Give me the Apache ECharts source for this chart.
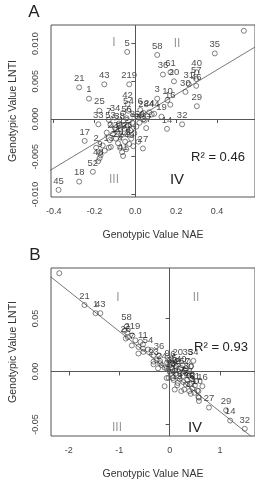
<!DOCTYPE html>
<html>
<head>
<meta charset="utf-8">
<script src="https://cdn.jsdelivr.net/npm/echarts@6/dist/echarts.min.js"></script>
<style>
  html, body { margin: 0; padding: 0; background: #fff; }
  #chart { width: 255px; height: 481px; }
</style>
</head>
<body>
<div id="chart"></div>
<script>
// panel A: genotypic value NAE (x) vs LNTI (y)
var labelsA = ['5', '21', '1', '43', '219', '58', '35', '', '36', '61', '20', '40', '57', '46', '31', '30',
    '3', '10', '16', '29', '32', '14', '19', '37', '27', '42', '54', '6', '56', '28', '24', '44',
    '25', '33', '7', '53', '17', '2', '9', '48', '52', '18', '45', '13',
    '23', '', '11', '', '22', '', '4', '39', '', '41', '12', '15', '', '26', '', '49', '', '47', '8',
    '', '', '55', '', '', '50', '', '', '', '', '', '', '34', '', '38', '', '', '', '', ''];
var naeA = [-0.040, -0.275, -0.227, -0.152, -0.030, 0.107, 0.389, 0.531, 0.135, 0.172, 0.189, 0.300, 0.298, 0.298, 0.262, 0.245,
    0.107, 0.157, 0.171, 0.301, 0.229, 0.155, 0.128, 0.053, 0.037, -0.038, -0.034, 0.024, -0.043, 0.040, 0.068, 0.092,
    -0.176, -0.181, -0.130, -0.122, -0.248, -0.192, -0.173, -0.182, -0.208, -0.275, -0.376, -0.130,
    -0.110, -0.100, -0.095, -0.088, -0.085, -0.080, -0.075, -0.070, -0.065, -0.060, -0.055, -0.050, -0.045, -0.040, -0.035, -0.030, -0.025, -0.020, -0.015,
    -0.010, -0.005, 0.005, 0.010, 0.015, 0.020, 0.030, -0.160, -0.150, -0.170, -0.175, -0.120, -0.100, -0.060, -0.077, 0.060, 0.080, 0.045, -0.140, -0.125];
var lntiA = [0.0089, 0.0042, 0.0027, 0.0046, 0.0046, 0.0085, 0.0087, 0.0117, 0.0059, 0.0062, 0.0050, 0.0062, 0.0053, 0.0044, 0.0046, 0.0036,
    0.0027, 0.0025, 0.0019, 0.0017, -0.0007, -0.0013, 0.0003, -0.0012, -0.0039, 0.0020, 0.0011, 0.0012, 0.0001, 0.0008, 0.0009, 0.0007,
    0.0011, -0.0007, -0.0001, -0.0007, -0.0029, -0.0038, -0.0045, -0.0056, -0.0070, -0.0083, -0.0094, -0.0038,
    -0.0020, -0.0012, -0.0026, -0.0017, -0.0032, -0.0006, -0.0038, -0.0022, -0.0044, -0.0049, -0.0013, -0.0030, -0.0040, -0.0020, -0.0008, -0.0033, -0.0015, -0.0026, -0.0005,
    -0.0036, -0.0019, -0.0010, 0.0003, -0.0030, -0.0005, 0.0005, -0.0035, -0.0042, -0.0048, -0.0052, -0.0037, 0.0002, 0.0008, -0.0008, 0.0004, 0.0006, -0.0002, -0.0018, -0.0028];
var fitA = [[-0.42, -0.00685], [0.59, 0.00962]];
var xTicksA = [-0.4, -0.2, 0.0, 0.2, 0.4];
var yTicksA = [-0.010, -0.005, 0.000, 0.005, 0.010];

// panel B
var labelsB = ['', '21', '1', '43', '58', '26', '219', '7', '11', '54', '36', '20', '35', '34', '40', '16', '27', '29', '14', '32',
    '', '', '', '', '', '', '', '', '', '', '', '', '23', '', '24', '', '', '', '', '6', '', '', '', '',
    '', '', '', '', '', '', '', '', '', '', '', '', '', '', '', '', '', '', '', '', '', '', '', '',
    '9', '13', '33', '4', '45', '17', '18', '52', '12', '3', '61', '10', '57', '30', '25', '5', '42', '19', '37'];
var naeB = [-2.19, -1.69, -1.47, -1.375, -0.856, -0.87, -0.74, -0.75, -0.53, -0.43, -0.21, 0.16, 0.36, 0.47, 0.23, 0.65, 0.78, 1.12, 1.20, 1.49,
    -0.895, -0.84, -0.83, -0.68, -0.58, -0.62, -0.53, -0.52, -0.62, -0.36, -0.32, -0.26, -0.32, -0.19, -0.16, -0.23, -0.10, -0.03, 0.0, 0.065, 0.13, 0.26, 0.32, 0.42,
    -0.32, -0.19, -0.06, 0.0, -0.06, -0.10, 0.10, 0.23, 0.16, 0.32, 0.39, 0.49, 0.57, 0.58, 0.58, 0.52, 0.42, 0.26, 0.19, 0.36, 0.45, 0.065, 0.29, 0.57,
    -0.05, 0.02, 0.05, 0.08, 0.12, 0.20, 0.27, 0.35, 0.40, 0.45, 0.50, 0.55, 0.30, 0.38, 0.03, -0.02, 0.10, 0.15, 0.42];
var lntiB = [0.0926, 0.0626, 0.0549, 0.0549, 0.0422, 0.0310, 0.0340, 0.0245, 0.0255, 0.0207, 0.0151, 0.0096, 0.0098, 0.0100, 0.0032, -0.0139, -0.0340, -0.0365, -0.0463, -0.0540,
    0.0385, 0.0364, 0.0324, 0.0293, 0.0278, 0.0231, 0.0216, 0.0185, 0.0169, 0.0200, 0.0154, 0.0107, 0.0093, 0.0098, 0.0061, 0.0030, 0.0037, 0.0107, 0.0061, 0.0077, 0.0046, 0.0061, 0.0030, 0.0046,
    0.0068, 0.0077, 0.0030, 0.0000, -0.0062, -0.0139, -0.0170, -0.0185, -0.0108, -0.0124, -0.0185, -0.0201, -0.0185, -0.0247, -0.0278, -0.0093, -0.0062, -0.0046, 0.0000, -0.0015, -0.0031, -0.0062, -0.0170, -0.0240,
    0.0085, -0.0020, 0.0020, -0.0080, -0.0020, -0.0070, -0.0100, -0.0080, -0.0120, -0.0160, -0.0130, -0.0180, 0.0015, -0.0040, 0.0040, -0.0060, 0.0010, -0.0130, -0.0210];
var fitB = [[-2.36, 0.0892], [1.70, -0.0643]];
var xTicksB = [-2, -1, 0, 1];
var yTicksB = [-0.05, 0.00, 0.05];

var font = 'Liberation Sans, Arial, sans-serif';

function pts(labels, xs, ys) {
    var out = [];
    for (var i = 0; i < xs.length; i++) {
        out.push({ value: [xs[i], ys[i]], name: labels[i] });
    }
    return out;
}

function xAxisFor(gi, min, max, ticks, dec) {
    return {
        gridIndex: gi, type: 'value', min: min, max: max,
        name: 'Genotypic Value NAE', nameLocation: 'middle', nameGap: 33,
        nameTextStyle: { fontFamily: font, fontSize: 10.5, color: '#333' },
        axisLine: { show: false },
        splitLine: { show: false },
        axisTick: { show: true, length: 4, lineStyle: { color: '#555' }, customValues: ticks },
        axisLabel: {
            fontFamily: font, fontSize: 9, color: '#444', margin: 10, customValues: ticks,
            formatter: function (v) { return dec ? v.toFixed(dec) : String(Math.round(v)); }
        }
    };
}

function yAxisFor(gi, min, max, ticks, dec) {
    return {
        gridIndex: gi, type: 'value', min: min, max: max,
        name: 'Genotypic Value LNTI', nameLocation: 'middle', nameGap: 32, nameRotate: 90,
        nameTextStyle: { fontFamily: font, fontSize: 10.5, color: '#333' },
        axisLine: { show: false },
        splitLine: { show: false },
        axisTick: { show: true, length: 4, lineStyle: { color: '#555' }, customValues: ticks },
        axisLabel: {
            fontFamily: font, fontSize: 9, color: '#444', margin: 11, rotate: 90, customValues: ticks,
            formatter: function (v) { return v.toFixed(dec); }
        }
    };
}

function scatterFor(gi, data) {
    return {
        type: 'scatter', xAxisIndex: gi, yAxisIndex: gi, data: data,
        symbol: 'circle', symbolSize: 5,
        itemStyle: { color: 'rgba(0,0,0,0)', borderColor: '#3a3a3a', borderWidth: 0.8 },
        label: {
            show: true, position: 'top', distance: 1, formatter: '{b}',
            fontFamily: font, fontSize: 9.5, color: '#222'
        },
        emphasis: { disabled: true },
        markLine: {
            silent: true, symbol: 'none', animation: false,
            label: { show: false },
            lineStyle: { color: '#555', width: 1, type: 'solid' },
            data: [{ xAxis: 0 }, { yAxis: 0 }]
        },
        z: 3
    };
}

function fitFor(gi, d) {
    return {
        type: 'line', xAxisIndex: gi, yAxisIndex: gi, data: d,
        symbol: 'none', clip: true,
        lineStyle: { color: '#555', width: 0.8 }, z: 2
    };
}

function txt(x, y, s, size, color) {
    return {
        type: 'text', x: x, y: y,
        style: { text: s, fontFamily: font, fontSize: size, fill: color, align: 'center', verticalAlign: 'middle' }
    };
}

var chart = echarts.init(document.getElementById('chart'));
chart.setOption({
    animation: false,
    backgroundColor: '#fff',
    grid: [
        { left: 49, top: 25, width: 208, height: 172, show: true, borderColor: '#555', borderWidth: 1 },
        { left: 49, top: 268, width: 208, height: 171, show: true, borderColor: '#555', borderWidth: 1 }
    ],
    xAxis: [
        xAxisFor(0, -0.4129, 0.5857, xTicksA, 1),
        xAxisFor(1, -2.354, 1.693, xTicksB, 0)
    ],
    yAxis: [
        yAxisFor(0, -0.01034, 0.01247, yTicksA, 3),
        yAxisFor(1, -0.0608, 0.0975, yTicksB, 2)
    ],
    series: [
        fitFor(0, fitA),
        scatterFor(0, pts(labelsA, naeA, lntiA)),
        fitFor(1, fitB),
        scatterFor(1, pts(labelsB, naeB, lntiB))
    ],
    graphic: [
        txt(34, 12, 'A', 17, '#222'),
        txt(114, 43, 'I', 12, '#999'),
        txt(177, 44, 'II', 12, '#999'),
        txt(114, 180, 'III', 12, '#999'),
        txt(177, 180, 'IV', 15, '#222'),
        txt(218, 157, 'R² = 0.46', 13, '#222'),
        txt(35, 255, 'B', 17, '#222'),
        txt(118, 298, 'I', 12, '#999'),
        txt(196, 298, 'II', 12, '#999'),
        txt(117, 428, 'III', 12, '#999'),
        txt(195, 428, 'IV', 15, '#222'),
        txt(221, 347, 'R² = 0.93', 13, '#222')
    ]
});
</script>
</body>
</html>
